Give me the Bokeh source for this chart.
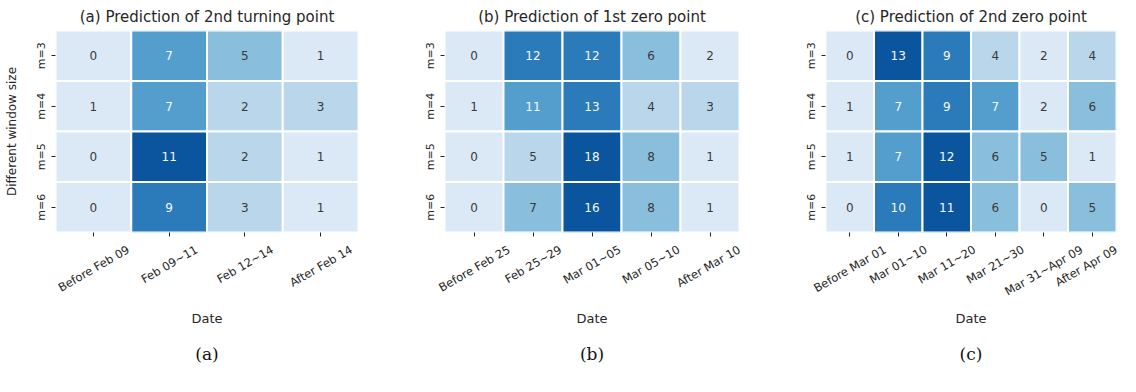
import math
from bokeh.plotting import figure
from bokeh.layouts import row
from bokeh.core.properties import value
from bokeh.models import (ColumnDataSource, FactorRange, LinearColorMapper, Title,
                          LinearAxis, Range1d, FixedTicker)
from bokeh.transform import transform
from bokeh.embed import file_html
from bokeh.resources import INLINE

rows = ["m=3", "m=4", "m=5", "m=6"]

a_title = "(a) Prediction of 2nd turning point"
a_cats = ["Before Feb 09", "Feb 09~11", "Feb 12~14", "After Feb 14"]
a_vals = [[0, 7, 5, 1], [1, 7, 2, 3], [0, 11, 2, 1], [0, 9, 3, 1]]

b_title = "(b) Prediction of 1st zero point"
b_cats = ["Before Feb 25", "Feb 25~29", "Mar 01~05", "Mar 05~10", "After Mar 10"]
b_vals = [[0, 12, 12, 6, 2], [1, 11, 13, 4, 3], [0, 5, 18, 8, 1], [0, 7, 16, 8, 1]]

c_title = "(c) Prediction of 2nd zero point"
c_cats = ["Before Mar 01", "Mar 01~10", "Mar 11~20", "Mar 21~30", "Mar 31~Apr 09", "After Apr 09"]
c_vals = [[0, 13, 9, 4, 2, 4], [1, 7, 9, 7, 2, 6], [1, 7, 12, 6, 5, 1], [0, 10, 11, 6, 0, 5]]

palette = ["#dbe9f6", "#bad6eb", "#89bedc", "#539ecd", "#2b7bba", "#0b559f"]
text_palette = ["#3a3a3a", "#3a3a3a", "#3a3a3a", "#f4f8fc", "#f4f8fc", "#f4f8fc"]
FONT = "DejaVu Sans"
TXT = "#262626"
TICK_FS = 11.5
ANG = math.pi / 6
# approximate DejaVu Sans advance widths (em), used only to centre rotated labels
ADV = {"B": .686, "e": .615, "f": .352, "o": .612, "r": .411, "F": .575, "b": .635,
       "A": .684, "t": .392, "M": .863, "a": .613, "p": .635, " ": .318, "~": .838}


def text_len(s, fs):
    return fs * sum(ADV.get(ch, .636) for ch in s)


def style_axis(ax):
    ax.axis_line_color = None
    ax.minor_tick_line_color = None
    ax.major_label_text_font = FONT
    ax.major_label_text_color = TXT
    ax.axis_label_text_font = FONT
    ax.axis_label_text_font_style = "normal"
    ax.axis_label_text_color = TXT


def panel(title, cats, vals, sub, width, left, right, date_standoff, ylabel=None):
    n = len(cats)
    centers = [i + 0.5 for i in range(n)]
    xs, ys, vs = [], [], []
    for r, rv in zip(rows, vals):
        for cx, v in zip(centers, rv):
            xs.append(cx)
            ys.append(r)
            vs.append(v)
    src = ColumnDataSource(dict(x=xs, y=ys, v=vs, s=[str(v) for v in vs]))
    lo, hi = min(vs), max(vs)
    cmap = LinearColorMapper(palette=palette, low=lo, high=hi)
    tmap = LinearColorMapper(palette=text_palette, low=lo, high=hi)

    p = figure(width=width, height=376, x_range=Range1d(0, n),
               y_range=FactorRange(*rows[::-1]), output_backend="svg",
               toolbar_location=None, min_border_left=left, min_border_right=right,
               min_border_top=22, min_border_bottom=132)
    p.title.text = title
    p.title.align = "center"
    p.title.text_font = FONT
    p.title.text_font_size = "15px"
    p.title.text_font_style = "normal"
    p.title.text_color = TXT
    p.outline_line_color = None
    p.grid.visible = False
    p.background_fill_color = "white"

    p.rect(x="x", y="y", width=1, height=1, source=src,
           fill_color=transform("v", cmap), line_color="white", line_width=2)
    p.text(x="x", y="y", text="s", source=src, text_align="center",
           text_baseline="middle", text_font_size="12px",
           text_color=transform("v", tmap), text_font=value(FONT))

    yax = p.yaxis[0]
    style_axis(yax)
    yax.major_tick_line_color = TXT
    yax.major_tick_in = 0
    yax.major_tick_out = 4
    yax.major_label_text_font_size = "11px"
    yax.major_label_orientation = "vertical"
    yax.major_label_standoff = 4
    if ylabel:
        yax.axis_label = ylabel
        yax.axis_label_text_font_size = "12px"
        yax.axis_label_standoff = 13

    # first x axis: the ticks at the column centres (labels hidden)
    xax = p.xaxis[0]
    style_axis(xax)
    xax.ticker = FixedTicker(ticks=centers)
    xax.major_tick_line_color = TXT
    xax.major_tick_in = 0
    xax.major_tick_out = 4
    xax.major_label_text_color = None
    xax.major_label_standoff = 0

    # second x axis: the category names, anchored so each rotated label is centred on its tick
    cell_w = (width - left - right) / n
    pos, over = [], {}
    for cx, c in zip(centers, cats):
        t = cx + text_len(c, TICK_FS) / 2 * math.cos(ANG) / cell_w
        t = round(min(t, n - 0.002), 4)
        pos.append(t)
        over[t] = c
    lab_ax = LinearAxis(ticker=FixedTicker(ticks=pos), major_label_overrides=over)
    style_axis(lab_ax)
    lab_ax.major_tick_line_color = None
    lab_ax.major_tick_out = 0
    lab_ax.major_tick_in = 0
    lab_ax.major_label_orientation = ANG
    lab_ax.major_label_standoff = 12
    lab_ax.major_label_text_font_size = f"{TICK_FS}px"
    lab_ax.axis_label = "Date"
    lab_ax.axis_label_text_font_size = "13px"
    lab_ax.axis_label_standoff = date_standoff
    p.add_layout(lab_ax, "below")

    t = Title(text=sub, align="center", text_font="DejaVu Serif",
              text_font_size="17px", text_font_style="normal", text_color="#111111",
              standoff=26, offset=-13)
    p.add_layout(t, "below")
    return p


pa = panel(a_title, a_cats, a_vals, "(a)", 372, 55, 14, 7, "Different window size")
pb = panel(b_title, b_cats, b_vals, "(b)", 376, 72, 9, 7)
pc = panel(c_title, c_cats, c_vals, "(c)", 372, 77, 4, 3)

layout = row(pa, pb, pc, spacing=0)
open("out.html", "w").write(file_html(layout, INLINE))
